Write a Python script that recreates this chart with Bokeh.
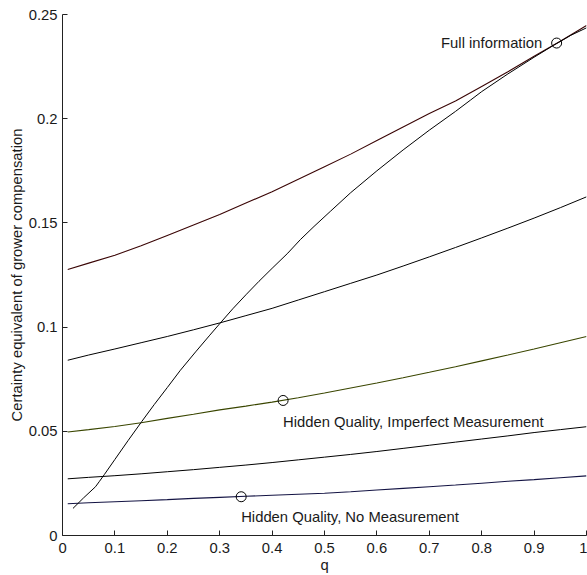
from bokeh.plotting import figure
from bokeh.models import Range1d, FixedTicker, ColumnDataSource
from bokeh.core.properties import value
from bokeh.embed import file_html
from bokeh.resources import INLINE

# ---- data ----
q_grid = [0.01, 0.05, 0.1, 0.15, 0.2, 0.25, 0.3, 0.35, 0.4, 0.45, 0.5,
          0.55, 0.6, 0.65, 0.7, 0.75, 0.8, 0.85, 0.9, 0.95, 1.0]
full_info = [0.1276, 0.1307, 0.1345, 0.1390, 0.1440, 0.1490, 0.1540, 0.1595, 0.1650, 0.1710, 0.1770,
             0.1830, 0.1895, 0.1960, 0.2025, 0.2085, 0.2155, 0.2225, 0.2300, 0.2372, 0.2447]
upper_mid = [0.0841, 0.0866, 0.0895, 0.0925, 0.0955, 0.0987, 0.1020, 0.1055, 0.1090, 0.1130, 0.1170,
             0.1210, 0.1250, 0.1293, 0.1337, 0.1382, 0.1428, 0.1475, 0.1523, 0.1573, 0.1625]
imperfect = [0.0497, 0.0508, 0.0523, 0.0541, 0.0562, 0.0582, 0.0603, 0.0621, 0.0640, 0.0661, 0.0684,
             0.0708, 0.0732, 0.0757, 0.0783, 0.0810, 0.0838, 0.0866, 0.0895, 0.0925, 0.0955]
lower_mid = [0.0272, 0.0279, 0.0287, 0.0296, 0.0306, 0.0316, 0.0327, 0.0338, 0.0350, 0.0363, 0.0376,
             0.0389, 0.0403, 0.0418, 0.0433, 0.0448, 0.0463, 0.0478, 0.0494, 0.0508, 0.0522]
no_meas = [0.0152, 0.0157, 0.0162, 0.0167, 0.0172, 0.0178, 0.0183, 0.0188, 0.0193, 0.0198, 0.0203,
           0.0210, 0.0218, 0.0226, 0.0234, 0.0242, 0.0251, 0.0260, 0.0268, 0.0277, 0.0286]

steep_q = [0.02, 0.04, 0.063, 0.07, 0.08, 0.1, 0.125, 0.151, 0.175, 0.2, 0.225, 0.254, 0.28,
           0.303, 0.325, 0.35, 0.375, 0.4, 0.43, 0.454, 0.48, 0.511, 0.55, 0.6, 0.65, 0.7,
           0.75, 0.779, 0.8, 0.85, 0.9, 0.937, 0.97, 1.0]
steep_v = [0.0130, 0.0180, 0.0234, 0.0258, 0.0293, 0.0365, 0.0455, 0.0546, 0.0628, 0.0710, 0.0793,
           0.0881, 0.0958, 0.1025, 0.1088, 0.1155, 0.1220, 0.1282, 0.1355, 0.1420, 0.1483, 0.1555,
           0.1645, 0.1750, 0.1850, 0.1945, 0.2035, 0.2090, 0.2130, 0.2215, 0.2295, 0.2352, 0.2400,
           0.2436]

marker_q = [0.943, 0.421, 0.341]
marker_v = [0.2363, 0.0648, 0.0186]

label_text = ["Full information", "Hidden Quality, Imperfect Measurement", "Hidden Quality, No Measurement"]
label_q = [0.9155, 0.421, 0.341]
label_v = [0.2363, 0.0546, 0.0087]
label_align = ["right", "left", "left"]

x_ticks = [0, 0.1, 0.2, 0.3, 0.4, 0.5, 0.6, 0.7, 0.8, 0.9, 1]
x_tick_labels = ["0", "0.1", "0.2", "0.3", "0.4", "0.5", "0.6", "0.7", "0.8", "0.9", "1"]
y_ticks = [0, 0.05, 0.1, 0.15, 0.2, 0.25]
y_tick_labels = ["0", "0.05", "0.1", "0.15", "0.2", "0.25"]

FONT = "Liberation Sans"
FS = "14.8px"
TXT = "#1a1a1a"

p = figure(width=587, height=575, output_backend="svg", toolbar_location=None,
           x_range=Range1d(0, 1), y_range=Range1d(0, 0.25),
           min_border_left=62, min_border_right=1, min_border_top=14, min_border_bottom=39)
p.outline_line_color = None
p.grid.visible = False
p.background_fill_color = "white"
p.border_fill_color = "white"

for ax in (p.xaxis[0], p.yaxis[0]):
    ax.axis_line_color = "#222222"
    ax.major_tick_line_color = "#222222"
    ax.major_tick_in = 5
    ax.major_tick_out = 0
    ax.minor_tick_line_color = None
    ax.major_label_text_font = FONT
    ax.major_label_text_font_size = FS
    ax.major_label_text_color = TXT
    ax.axis_label_text_font = FONT
    ax.axis_label_text_font_size = FS
    ax.axis_label_text_font_style = "normal"
    ax.axis_label_text_color = TXT

p.xaxis.ticker = FixedTicker(ticks=x_ticks)
p.xaxis.major_label_overrides = {float(t): l for t, l in zip(x_ticks, x_tick_labels)}
p.yaxis.ticker = FixedTicker(ticks=y_ticks)
p.yaxis.major_label_overrides = {float(t): l for t, l in zip(y_ticks, y_tick_labels)}
p.xaxis.major_label_standoff = 7
p.yaxis.major_label_standoff = 5
p.xaxis.axis_label = "q"
p.yaxis.axis_label = "Certainty equivalent of grower compensation"
p.xaxis.axis_label_standoff = 1
p.yaxis.axis_label_standoff = 1

p.line(q_grid, full_info, line_color="#3a0505", line_width=1.1)
p.line(q_grid, upper_mid, line_color="black", line_width=1)
p.line(q_grid, imperfect, line_color="#3a4600", line_width=1.1)
p.line(q_grid, lower_mid, line_color="black", line_width=1)
p.line(q_grid, no_meas, line_color="#141444", line_width=1.1)
p.line(steep_q, steep_v, line_color="black", line_width=1)

p.scatter(marker_q, marker_v, marker="circle", size=10, fill_color=None,
          line_color="black", line_width=1)

src = ColumnDataSource(dict(x=label_q, y=label_v, t=label_text, a=label_align))
p.text(x="x", y="y", text="t", text_align="a", source=src, text_baseline="middle",
       text_font=value(FONT), text_font_size=value(FS), text_color=TXT)

open("out.html", "w").write(file_html(p, INLINE))
